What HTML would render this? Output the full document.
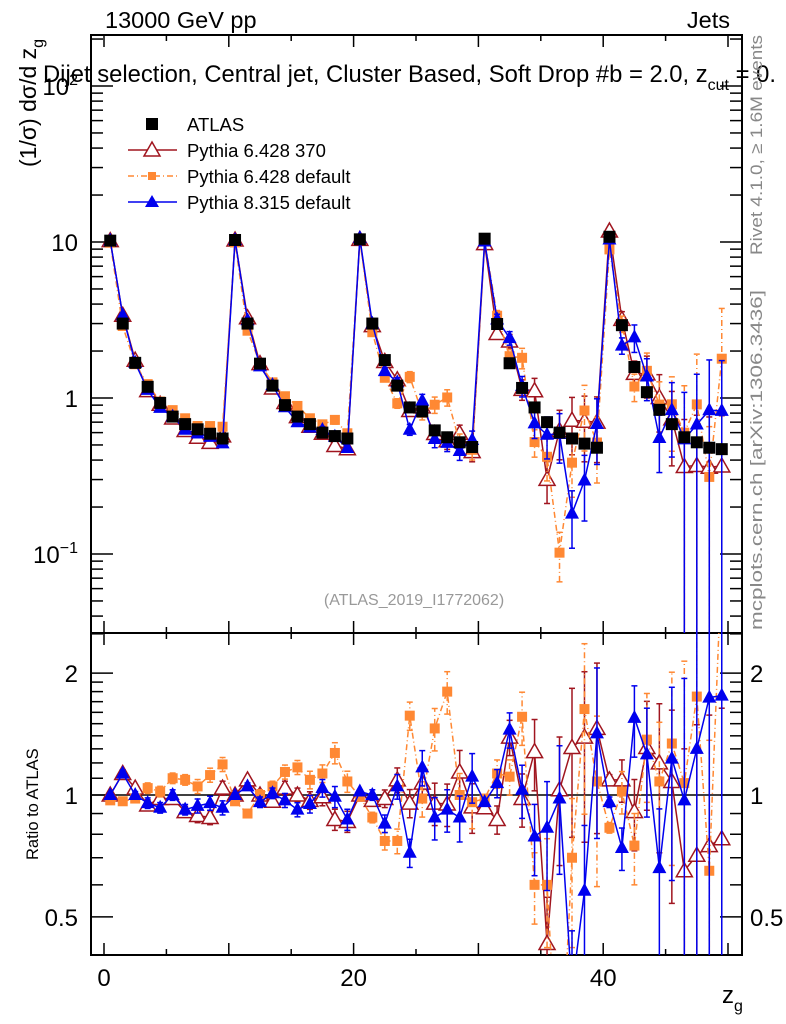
<!DOCTYPE html>
<html><head><meta charset="utf-8"><style>
html,body{margin:0;background:#fff;overflow:hidden;width:786px;height:1024px;}
svg{display:block;font-family:"Liberation Sans",sans-serif;}
</style></head><body>
<svg id="c" width="786" height="1024" viewBox="0 0 786 1024" xmlns="http://www.w3.org/2000/svg">
<defs>
<clipPath id="cm"><rect x="91" y="35" width="651" height="598"/></clipPath>
<clipPath id="cr"><rect x="91" y="633" width="651" height="322"/></clipPath>
</defs>
<text x="105" y="28" font-size="23.5">13000 GeV pp</text>
<text x="730" y="28" font-size="23.5" text-anchor="end">Jets</text>
<text x="43" y="82" font-size="23.8">Dijet selection, Central jet, Cluster Based, Soft Drop #b = 2.0, z<tspan dy="8" font-size="16">cut</tspan><tspan dy="-8"> = 0.</tspan></text>
<text transform="translate(762,255) rotate(-90)" font-size="17" fill="#888" textLength="220" lengthAdjust="spacingAndGlyphs">Rivet 4.1.0, ≥ 1.6M events</text>
<text transform="translate(762,630) rotate(-90)" font-size="17" fill="#888" textLength="340" lengthAdjust="spacingAndGlyphs">mcplots.cern.ch [arXiv:1306.3436]</text>
<text transform="translate(36,167) rotate(-90)" font-size="23">(1/σ) dσ/d z<tspan dy="7" font-size="16">g</tspan></text>
<text transform="translate(38,860) rotate(-90)" font-size="16.5">Ratio to ATLAS</text>
<text x="414" y="605" font-size="16" fill="#999" text-anchor="middle">(ATLAS_2019_I1772062)</text>
<text x="722" y="1003" font-size="24">z<tspan dy="8" font-size="16">g</tspan></text>
<g id="axes"></g>
<g id="marks"></g>
<g id="legend">
<rect x="146" y="118" width="12" height="12" fill="#000"/>
<text x="187" y="131" font-size="18.5">ATLAS</text>
<line x1="128" y1="150" x2="177" y2="150" stroke="#a0151f" stroke-width="1.5"/>
<polygon points="152,142 160,156 144,156" fill="#fff" stroke="#a0151f" stroke-width="1.5"/>
<text x="187" y="157" font-size="18.5">Pythia 6.428 370</text>
<line x1="128" y1="176" x2="177" y2="176" stroke="#ff8833" stroke-width="1.5" stroke-dasharray="6,3,1,3"/>
<rect x="148" y="172" width="8" height="8" fill="#ff8833"/>
<text x="187" y="183" font-size="18.5">Pythia 6.428 default</text>
<line x1="128" y1="202" x2="177" y2="202" stroke="#0000ee" stroke-width="1.5"/>
<polygon points="152,195 159,207 145,207" fill="#0000ee"/>
<text x="187" y="209" font-size="18.5">Pythia 8.315 default</text>
</g>
</svg>
<script>
const atlas=[10.2,3.0,1.68,1.18,0.93,0.76,0.68,0.63,0.59,0.55, 10.3,3.0,1.66,1.2,0.9,0.76,0.68,0.6,0.57,0.55, 10.4,3.0,1.75,1.2,0.87,0.82,0.62,0.56,0.52,0.485, 10.5,2.98,1.67,1.16,0.87,0.70,0.6,0.55,0.51,0.48, 10.8,2.93,1.58,1.09,0.84,0.68,0.56,0.52,0.48,0.47];
const ratio370=[1.0,1.13,1.04,0.945,0.98,0.98,0.91,0.89,0.88,1.04, 1.0,1.09,1.0,0.965,1.04,1.0,0.97,0.99,0.87,0.86, 1.0,0.97,0.98,1.09,0.955, 1.07,0.955,0.95,1.14,0.935, 0.93,0.87,1.39,0.98,1.28,0.43,1.03,1.31,1.39,1.46, 1.09,1.09,0.91,1.31,1.2,1.08,0.65,0.71,0.75,0.78];
const ratioP6=[0.97,0.965,0.98,1.04,1.02,1.1,1.09,1.05,1.12,1.19, 0.965,0.9,1.0,1.05,1.14,1.17,1.09,1.13,1.27,1.08, 0.99,0.88,0.77,0.77,1.57, 0.98,1.46,1.8,1.0,0.96, 0.98,1.13,1.11,1.56,0.6,0.6,0.17,0.7,1.63,1.08, 0.83,1.02,0.75,1.37,1.08,1.34,1.07,1.75,0.65,3.8];
const ratioP8=[1.0,1.13,1.0,0.955,0.93,1.0,0.92,0.94,0.955,0.93, 1.0,1.05,0.96,1.01,0.97,0.92,0.95,1.04,0.99,0.87, 1.02,1.0,0.85,1.05,0.72, 1.17,0.88,0.92,0.88,1.11, 0.96,1.07,1.45,1.03,0.79,0.83,0.98,0.33,0.58,1.42, 0.96,0.74,1.55,1.26,0.66,1.23,0.97,1.3,1.74,1.76];
const relErr=[0.01,0.02,0.02,0.03,0.03,0.03,0.03,0.04,0.04,0.04, 0.01,0.02,0.03,0.03,0.04,0.04,0.05,0.05,0.06,0.06, 0.01,0.03,0.05,0.07,0.08,0.1,0.12,0.12,0.13,0.14, 0.02,0.08,0.1,0.15,0.2,0.3,0.35,0.4,0.45,0.45, 0.03,0.12,0.2,0.3,0.4,0.5,1.0,1.1,1.1,1.1];
const xTickLabels=["0","20","40"];
const xTickValues=[0,20,40];

const NS="http://www.w3.org/2000/svg";
const X=v=>104+12.48*v;
const YM=v=>398-156*Math.log10(v);
const YR=r=>795-405*Math.log10(r);
const axes=document.getElementById('axes'), marks=document.getElementById('marks');
function mk(tag,attrs,parent){const e=document.createElementNS(NS,tag);for(const k in attrs)e.setAttribute(k,attrs[k]);parent.appendChild(e);return e;}
let f1=mk('rect',{x:91,y:35,width:651,height:598,fill:'none',stroke:'#000','stroke-width':2},axes);


let f2=mk('rect',{x:91,y:633,width:651,height:322,fill:'none',stroke:'#000','stroke-width':2},axes);


for(let v=0;v<=50;v+=5){const L=v%10===0?12:6;const x=X(v);
 [[35,1],[633,-1],[633,1],[955,-1]].forEach(([y,d])=>mk('line',{x1:x,x2:x,y1:y,y2:y+d*L,stroke:'#000','stroke-width':1.5},axes));}
xTickValues.forEach((v,i)=>{const t=mk('text',{x:X(v),y:986,'font-size':24,'text-anchor':'middle'},axes);t.textContent=xTickLabels[i];
 
 });
for(let d=-2;d<=2;d++)for(let m=1;m<=9;m++){const v=m*Math.pow(10,d);const y=YM(v);if(y<35||y>633)continue;const L=m===1?22:12;
 mk('line',{x1:91,x2:91+L,y1:y,y2:y,stroke:'#000','stroke-width':1.5},axes);mk('line',{x1:742,x2:742-L,y1:y,y2:y,stroke:'#000','stroke-width':1.5},axes);}
[["10",242],["1",398]].forEach(([s,y])=>{const t=mk('text',{x:78,y:y+9,'font-size':24,'text-anchor':'end'},axes);t.textContent=s;
 
 });
[["2",86],["−1",554]].forEach(([e,y])=>{const t=mk('text',{x:78,y:y+9,'font-size':24,'text-anchor':'end'},axes);t.innerHTML='10<tspan dy="-10" font-size="16">'+e+'</tspan>';
 
 });
[0.4,0.5,0.6,0.7,0.8,0.9,1,1.1,1.2,1.3,1.4,1.5,1.6,1.7,1.8,1.9,2,2.5].forEach(v=>{const y=YR(v);if(y<633||y>955)return;const L=(v===0.5||v===1||v===2)?22:12;
 mk('line',{x1:91,x2:91+L,y1:y,y2:y,stroke:'#000','stroke-width':1.5},axes);mk('line',{x1:742,x2:742-L,y1:y,y2:y,stroke:'#000','stroke-width':1.5},axes);});
[["2",2],["1",1],["0.5",0.5]].forEach(([s,v])=>{let t=mk('text',{x:78,y:YR(v)+9,'font-size':24,'text-anchor':'end'},axes);t.textContent=s;
 
 
 t=mk('text',{x:750,y:YR(v)+9,'font-size':24},axes);t.textContent=s;
 
 });
const gm=mk('g',{'clip-path':'url(#cm)'},marks), gr=mk('g',{'clip-path':'url(#cr)'},marks);
mk('line',{x1:91,x2:742,y1:YR(1),y2:YR(1),stroke:'#000','stroke-width':1.5},gr);
const series=[
 {name:'pythia6-370',r:ratio370,c:'#a0151f',dash:null,m:'otri'},
 {name:'pythia6-default',r:ratioP6,c:'#ff8833',dash:'6,3,1,3',m:'sq'},
 {name:'pythia8-default',r:ratioP8,c:'#0000ee',dash:null,m:'tri'}];
function marker(g,type,x,y,c){
 if(type==='otri')return mk('polygon',{points:`${x},${y-8} ${x+8},${y+6} ${x-8},${y+6}`,fill:'#fff',stroke:c,'stroke-width':1.5},g);
 if(type==='tri')return mk('polygon',{points:`${x},${y-8} ${x+7},${y+5} ${x-7},${y+5}`,fill:c},g);
 return mk('rect',{x:x-5,y:y-5,width:10,height:10,fill:c},g);}
const clampY=(y,lo,hi)=>Math.max(lo,Math.min(hi,y));
series.forEach(s=>{
 [[gm,i=>atlas[i]*s.r[i],YM,35,633],[gr,i=>s.r[i],YR,633,955]].forEach(([g,val,Y,top,bot])=>{
  const pts=atlas.map((_,i)=>X(i+0.5)+','+Y(val(i))).join(' ');
  const pl=mk('polyline',{points:pts,fill:'none',stroke:s.c,'stroke-width':1.5},g);
  if(s.dash)pl.setAttribute('stroke-dasharray',s.dash);
  
  
  atlas.forEach((_,i)=>{const v=val(i),e=relErr[i],x=X(i+0.5);
   const loRaw=v*(1-e)>0?Y(v*(1-e)):bot+5;
   const lo=clampY(loRaw,top-5,bot+5),hi=clampY(Y(v*(1+e)),top-5,bot+5);
   const ea={x1:x,x2:x,y1:lo,y2:hi,stroke:s.c,'stroke-width':1.5};if(s.dash)ea['stroke-dasharray']=s.dash;
   const el=mk('line',ea,g);
   
   
   mk('line',{x1:x-3,x2:x+3,y1:hi,y2:hi,stroke:s.c,'stroke-width':1.5},g);
   mk('line',{x1:x-3,x2:x+3,y1:lo,y2:lo,stroke:s.c,'stroke-width':1.5},g);
   const p=marker(g,s.m,x,clampY(Y(v),top-20,bot+20),s.c);
   
   });
 });
});
atlas.forEach((v,i)=>{const r=mk('rect',{x:X(i+0.5)-6,y:YM(v)-6,width:12,height:12,fill:'#000'},gm);
 
 });
</script>
</body></html>
